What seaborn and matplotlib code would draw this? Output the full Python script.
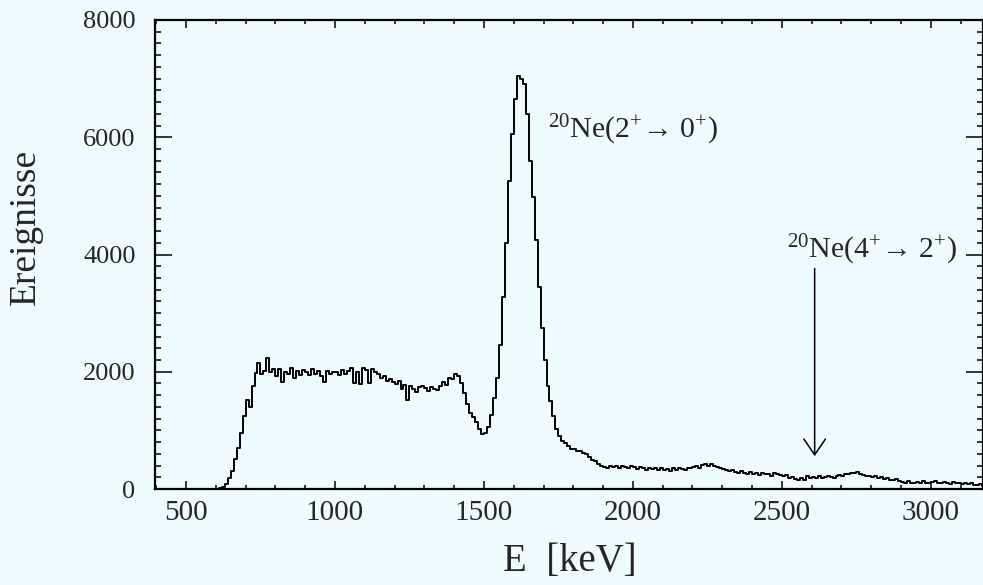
import numpy as np
import pandas as pd
import matplotlib
matplotlib.use("Agg")
import matplotlib.pyplot as plt
import seaborn as sns

# ---- data ----
bin_start = 560      # keV, left edge of first bin
bin_width = 10       # keV

counts_rise = [0, 0, 0, 0,
               0, 15, 40, 90, 180, 300, 520, 700, 960, 1250,
               1520, 1400, 1760, 1980, 2150, 1960, 2010, 2240, 1990, 2050]
counts_plateau = [1930, 2040, 1830, 2000, 1960, 2060, 1900, 2010, 1950, 2030,
                  2000, 1950, 2040, 1970, 2010, 1920, 1820, 2020, 1960, 1990,
                  1990, 1940, 2030, 1960, 2010, 2070, 1800, 1990, 1790, 2070,
                  2030, 1800, 2040, 1990, 1960, 1900, 1920, 1850, 1880, 1820,
                  1790, 1840, 1700, 1780, 1520, 1760, 1700, 1650, 1740, 1760,
                  1720, 1680, 1740, 1710, 1690, 1760, 1820, 1780, 1900, 1870,
                  1960, 1930, 1800, 1640, 1450, 1300, 1220, 1150, 1020, 940]
counts_peak = [960, 1060, 1260, 1550, 1900, 2450, 3270, 4200, 5250, 6050,
               6650, 7050, 7000, 6900, 6400, 5600, 4980, 4250, 3450, 2750,
               2200, 1750, 1500, 1250, 1030, 900, 820, 780, 730, 690]
counts_tail = [680, 650, 640, 610, 590, 540, 490, 470, 420, 400,
               380, 360, 400, 370, 390, 350, 400, 380, 360, 390,
               370, 340, 380, 350, 330, 360, 340, 350, 320, 350,
               330, 340, 310, 350, 330, 360, 340, 320, 350, 360,
               370, 390, 360, 410, 420, 390, 430, 400, 380, 350,
               340, 320, 300, 330, 290, 270, 300, 280, 260, 290,
               250, 270, 240, 280, 250, 260, 230, 270, 250, 240,
               220, 240, 190, 200, 170, 160, 190, 150, 220, 190,
               210, 180, 220, 190, 200, 230, 210, 190, 220, 240,
               230, 260, 250, 280, 270, 290, 260, 240, 230, 220,
               210, 220, 190, 200, 170, 180, 160, 150, 170, 140,
               120, 110, 130, 100, 110, 120, 100, 130, 110, 100,
               120, 130, 110, 100, 120, 110, 90, 120, 100, 110,
               90, 110, 80, 100, 70, 60, 80, 50]

x_ticks = [500, 1000, 1500, 2000, 2500, 3000]
y_ticks = [0, 2000, 4000, 6000, 8000]
label_peak1 = r"$^{20}$Ne(2$^{+}$→ 0$^{+}$)"
label_peak2 = r"$^{20}$Ne(4$^{+}$→ 2$^{+}$)"
arrow_energy = 2610
arrow_top, arrow_tip = 3760, 560

counts = counts_rise + counts_plateau + counts_peak + counts_tail
n = len(counts)
centers = bin_start + bin_width * np.arange(n) + bin_width / 2
df = pd.DataFrame({"E": centers, "N": np.asarray(counts, dtype=float)})

# ---- style ----
sns.set_theme(style="ticks")
bg = "#eefbff"
plt.rcParams["font.family"] = ["Liberation Serif", "DejaVu Serif"]
plt.rcParams["mathtext.fontset"] = "custom"
plt.rcParams["mathtext.rm"] = "Liberation Serif"
plt.rcParams["mathtext.it"] = "Liberation Serif:italic"
plt.rcParams["mathtext.bf"] = "Liberation Serif:bold"

fig = plt.figure(figsize=(9.83, 5.85), dpi=100, facecolor=bg)
ax = fig.add_axes([155 / 983, 1 - 489 / 585, 1 - 155 / 983, (489 - 20) / 585])
ax.set_facecolor(bg)

sns.histplot(data=df, x="E", weights="N", binwidth=bin_width,
             binrange=(bin_start, bin_start + n * bin_width), element="step",
             fill=False, color="black", linewidth=1.4, ax=ax)

ax.set_xlim(396, 3175)
ax.set_ylim(0, 8000)
ax.set_xticks(x_ticks)
ax.set_yticks(y_ticks)
ax.set_xticklabels([str(v) for v in x_ticks])
ax.set_yticklabels([str(v) for v in y_ticks])
ax.xaxis.set_minor_locator(matplotlib.ticker.MultipleLocator(100))
ax.yaxis.set_minor_locator(matplotlib.ticker.MultipleLocator(200))

for s in ax.spines.values():
    s.set_linewidth(1.6)
    s.set_color("black")
    s.set_visible(True)

ax.tick_params(axis="both", which="both", direction="in", top=True, right=True,
               color="black", width=1.1)
ax.tick_params(axis="x", which="major", length=6, pad=8, labelsize=21)
ax.tick_params(axis="x", which="minor", length=3)
ax.tick_params(axis="y", which="major", length=12, pad=14, labelsize=19)
ax.tick_params(axis="y", which="minor", length=4)

ax.set_xlabel("E  [keV]", fontsize=28)
ax.set_ylabel("Ereignisse", fontsize=27)
ax.xaxis.set_label_coords(0.501, -0.115)
ax.yaxis.set_label_coords(-0.136, 0.558)

ax.text(1715, 5983, label_peak1, fontsize=21.5, ha="left", va="baseline")
ax.text(2517, 3949, label_peak2, fontsize=21.5, ha="left", va="baseline")
ax.annotate("", xy=(arrow_energy, arrow_tip), xytext=(arrow_energy, arrow_top),
            arrowprops=dict(arrowstyle="->,head_length=0.95,head_width=0.65",
                            lw=1.1, color="black", shrinkA=0, shrinkB=0))

fig.savefig("out.png", dpi=100, facecolor=bg)
